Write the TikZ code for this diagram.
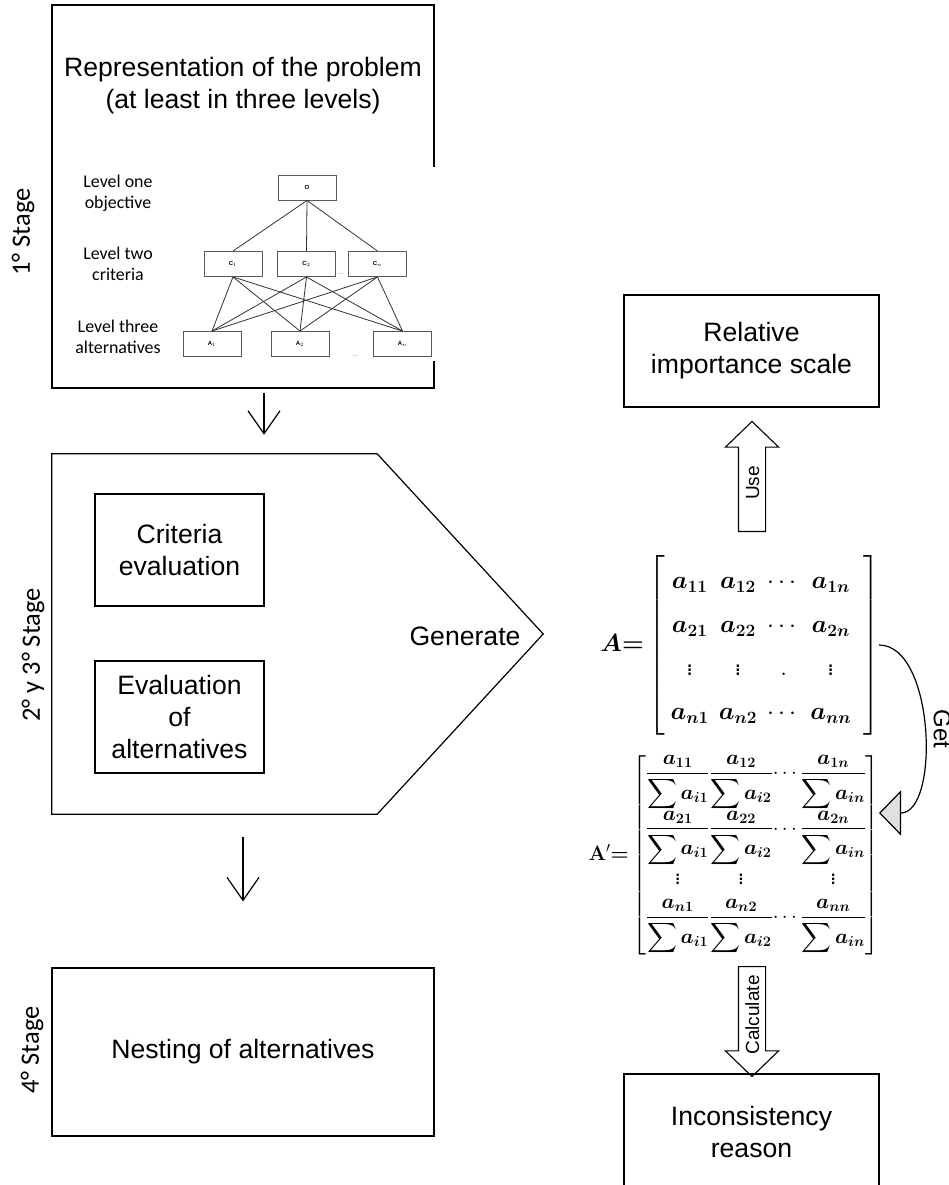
\documentclass[tikz,border=0pt]{standalone}
\usepackage{amsmath}
\usepackage{bm}
\usepackage[no-math]{fontspec}
\setmainfont{Liberation Sans}
\newfontfamily\calibri{Carlito}
\usetikzlibrary{arrows.meta, positioning, calc, shapes.arrows}

\newcommand\colfrac[2]{\genfrac{}{}{1.2pt}{0}{\bm{#1}}{\displaystyle\sum\bm{#2}}}

\begin{document}
\begin{tikzpicture}[
  x=1pt, y=-1pt,
  block/.style = {draw, line width=1.2pt, align=center, font=\fontsize{26.6}{32}\selectfont},
  txt/.style = {align=center, font=\fontsize{26.6}{32}\selectfont},
  hbox/.style = {draw=black!65, line width=0.9pt, minimum width=58pt, minimum height=25pt, inner sep=0pt, font=\fontsize{6}{6}\selectfont\bfseries},
  link/.style = {line width=0.8pt, black!80},
  level/.style = {align=center, font=\calibri\fontsize{17.9}{21}\selectfont},
  stage/.style = {rotate=90, font=\calibri\fontsize{26.5}{30}\selectfont},
  flow/.style = {line width=1.2pt, -{Straight Barb[length=23pt, width=32pt, line width=1.2pt]}},
  blockarrow/.style = {draw, line width=1.1pt, single arrow, single arrow head extend=13pt,
    single arrow tip angle=92, text height=14pt, text depth=0pt, inner ysep=6pt, inner xsep=0pt,
    minimum height=110pt, font=\fontsize{19}{19}\selectfont}
]
  \useasboundingbox (0,0) rectangle (949,1185);

  % 1st stage: problem and hierarchy
  \node[block, minimum width=382pt, minimum height=383pt] (rep) at (243,196.5) {};
  \node[txt] (reptitle) at (243,86) {Representation of the problem\\(at least in three levels)};
  \fill[white] (60,167) rectangle (437,361);

  \node[hbox] (o) at (307,187.5) {O};
  \node[hbox] (c1) at (233,264) {C$_1$};
  \node[hbox] (c2) at (306.5,264) {C$_2$};
  \node[hbox] (cn) at (377.5,264) {C$_n$};
  \node[hbox] (a1) at (212,344) {A$_1$};
  \node[hbox] (a2) at (300,344) {A$_2$};
  \node[hbox] (an) at (402.5,344) {A$_n$};
  \foreach \c in {c1,c2,cn} {
    \draw[link] (o.south) -- (\c.north);
    \foreach \a in {a1,a2,an}
      \draw[link] (\c.south) -- (\a.north);
  }
  \node[font=\tiny] (cdots) at (341,274) {...};
  \node[font=\tiny] (adots) at (355,356) {...};

  \node[level] (lev1) at (118,193.5) {Level one\\objective};
  \node[level] (lev2) at (118,263.5) {Level two\\criteria};
  \node[level] (lev3) at (118,337) {Level three\\alternatives};

  \node[stage] (st1) at (23,232) {1° Stage};
  \node[stage] (st23) at (33,655) {2° y 3° Stage};
  \node[stage] (st4) at (32,1050) {4° Stage};

  % 2nd and 3rd stage
  \node[minimum width=491pt, minimum height=360pt] (gen) at (297.5,634) {};
  \draw[line width=1.2pt] (gen.north west) -- ([xshift=-166pt]gen.north east) -- (gen.east)
    -- ([xshift=-166pt]gen.south east) -- (gen.south west) -- cycle;
  \node[block, minimum width=169pt, minimum height=112pt] (crit) at (179.5,550) {Criteria\\evaluation};
  \node[block, minimum width=169pt, minimum height=112pt] (evalt) at (179.5,717) {Evaluation\\of\\alternatives};
  \node[txt] (genlbl) at (465,636) {Generate};

  \coordinate (drop) at ([xshift=21pt]rep.south);
  \draw[flow, shorten <=4pt, shorten >=19pt] (drop) -- (drop |- gen.north);

  % 4th stage
  \node[block, minimum width=382pt, minimum height=168pt] (nest) at (243,1052) {Nesting of alternatives};
  \draw[flow, shorten <=23pt, shorten >=66pt] (nest.north |- gen.south) -- (nest.north);

  % right column
  \node[block, minimum width=255pt, minimum height=112pt] (scale) at (751.5,351) {Relative\\importance scale};
  \node[blockarrow, rotate=90] (use) at (752,483) {Use};

  \node[inner sep=0pt, anchor=east] (matA) at (880,645.5) {\fontsize{24}{29}\selectfont\renewcommand\arraystretch{1.5}\setlength\arraycolsep{5pt}%
    $\bm{A}\mathord{\bm{=}}\left[\begin{array}{@{\hspace{6pt}}cccc@{\hspace{12pt}}}
      \bm{a_{11}} & \bm{a_{12}} & \cdots & \bm{a_{1n}}\\
      \bm{a_{21}} & \bm{a_{22}} & \cdots & \bm{a_{2n}}\\
      \vdots & \vdots & . & \vdots\\
      \bm{a_{n1}} & \bm{a_{n2}} & \cdots & \bm{a_{nn}}
    \end{array}\right]$};

  \node[inner sep=0pt, anchor=east] (matB) at (880,855) {\fontsize{22.5}{26}\selectfont%
    $\mathbf{A}'\mathord{\bm{=}}\left[\begin{array}{@{}c@{}c@{}c@{}c@{}}
      \colfrac{a_{11}}{a_{i1}} & \colfrac{a_{12}}{a_{i2}} & \cdots & \colfrac{a_{1n}}{a_{in}}\\[10pt]
      \colfrac{a_{21}}{a_{i1}} & \colfrac{a_{22}}{a_{i2}} & \cdots & \colfrac{a_{2n}}{a_{in}}\\[7pt]
      \vdots & \vdots & & \vdots\\[7pt]
      \colfrac{a_{n1}}{a_{i1}} & \colfrac{a_{n2}}{a_{i2}} & \cdots & \colfrac{a_{nn}}{a_{in}}
    \end{array}\right]$};

  \coordinate (getfrom) at (879,645);
  \coordinate (getto) at (879,813);
  \draw[line width=1.2pt, -{Triangle[length=22pt, width=45pt, fill=black!12]}]
    (getfrom) .. controls (935,645) and (940,813) .. (getto);
  \node[rotate=-90, font=\fontsize{24}{24}\selectfont] (getlbl) at (942,729) {Get};

  \node[blockarrow, rotate=90, shape border rotate=180] (calc) at (752,1015) {Calculate};
  \node[block, minimum width=255pt, minimum height=115pt] (incons) at (751.5,1131.5) {Inconsistency\\reason};

\end{tikzpicture}
\end{document}
